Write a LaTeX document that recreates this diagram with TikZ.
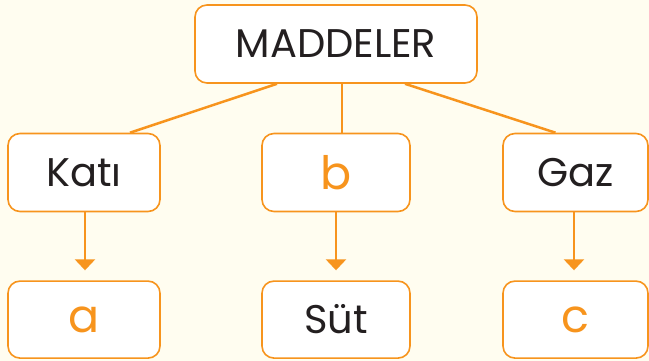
\documentclass[tikz,border=0pt]{standalone}
\usepackage{fontspec}
\setmainfont{Poppins}
\usetikzlibrary{positioning,arrows.meta}
\definecolor{turuncu}{HTML}{F7941D}
\definecolor{krem}{HTML}{FFFDF0}
\definecolor{murekkep}{HTML}{231F20}
\tikzset{
  kutu/.style={rectangle, rounded corners=12pt, draw=turuncu, line width=1.6pt, fill=white,
               minimum height=78pt, text=murekkep, font=\fontsize{40}{44}\selectfont},
  cevap/.style={text=turuncu, font=\fontsize{46}{50}\selectfont},
  dal/.style={draw=turuncu, line width=2.5pt},
  ok/.style={dal, -{Triangle[length=11pt,width=20pt]}, shorten >=10pt},
}
\begin{document}
\begin{tikzpicture}[x=1pt,y=-1pt]
\fill[krem] (0,0) rectangle (649,361);
\useasboundingbox (0,0) rectangle (649,361);
%Nodes
\node[kutu, minimum width=282pt] (maddeler) at (336,44) {MADDELER};
\node[kutu, minimum width=152pt] (kati) at (84,172.5) {Katı};
\node[kutu, cevap, minimum width=148pt] (b) at (336,172.5) {b};
\node[kutu, minimum width=145pt] (gaz) at (575.5,172.5) {Gaz};
\node[kutu, cevap, minimum width=152pt, minimum height=77pt] (a) [below=68pt of kati] {a};
\node[kutu, minimum width=148pt, minimum height=77pt] (sut) [below=68pt of b] {Süt};
\node[kutu, cevap, minimum width=145pt, minimum height=77pt] (c) [below=68pt of gaz] {c};

%Lines
\draw[dal] ([xshift=-59pt]maddeler.south) -- ([xshift=46pt]kati.north);
\draw[dal] ([xshift=6pt]maddeler.south) -- ([xshift=6pt]b.north);
\draw[dal] ([xshift=69pt]maddeler.south) -- ([xshift=-20pt]gaz.north);
\draw[ok] ([xshift=1pt]kati.south) -- ([xshift=1pt]a.north);
\draw[ok] (b.south) -- (sut.north);
\draw[ok] ([xshift=-1.5pt]gaz.south) -- ([xshift=-1.5pt]c.north);
\end{tikzpicture}
\end{document}
